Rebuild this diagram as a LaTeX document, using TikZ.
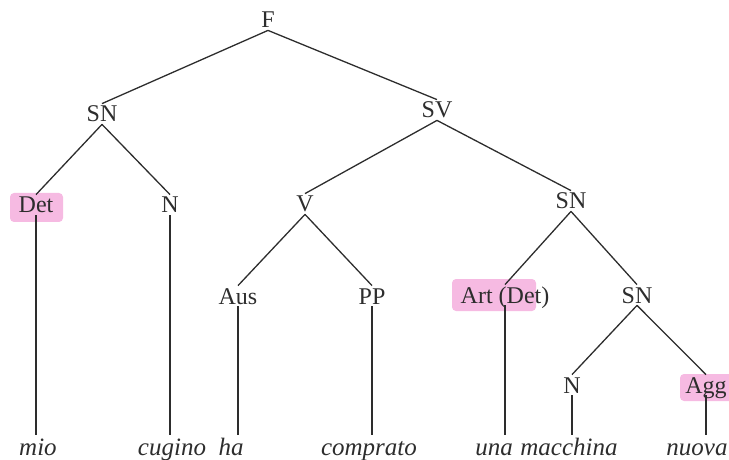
\documentclass[tikz,border=0pt]{standalone}
\usepackage{fontspec}
\setmainfont{Liberation Serif}
\usepackage{xcolor}
\usepackage{tikz}
\definecolor{ink}{RGB}{45,45,45}
\definecolor{marker}{RGB}{246,186,226}

\begin{document}
\begin{tikzpicture}[
  x=0.5pt, y=-0.5pt,
  cat/.style={anchor=base, inner sep=1pt, text height=8pt, text depth=0pt, text=ink},
  word/.style={cat, text height=9pt, font=\fontsize{12.5}{15}\selectfont\itshape},
  branch/.style={draw=ink, line width=0.65pt},
  hl/.style={fill=marker, rounded corners=2pt},
  font=\fontsize{12}{14}\selectfont
]
\useasboundingbox (0,0) rectangle (729,460);

% highlighter marks
\fill[hl] (10,193) rectangle (63,222);
\fill[hl] (452,279) rectangle (536,311);
\fill[hl] (680,374) rectangle (740,401);

\node[cat] (f) at (268,28) {F};
\node[cat] (sn) at (102,122) {SN};
\node[cat] (sv) at (437,118) {SV};
\node[cat] (det) at (36,213) {Det};
\node[cat] (n) at (170,213) {N};
\node[cat] (v) at (305,212) {V};
\node[cat] (snob) at (571,209) {SN};
\node[cat] (aus) at (238,304) {Aus};
\node[cat] (pp) at (372,304) {PP};
\node[cat] (art) at (505,303) {Art (Det)};
\node[cat] (snn) at (637,303) {SN};
\node[cat] (nn) at (572,393) {N};
\node[cat] (agg) at (706,393) {Agg};

\node[word] (mio) at (38,455) {mio};
\node[word] (cugino) at (172,455) {cugino};
\node[word] (ha) at (231,455) {ha};
\node[word] (comprato) at (369,455) {comprato};
\node[word] (una) at (494,455) {una};
\node[word] (macchina) at (569,455) {macchina};
\node[word] (nuova) at (697,455) {nuova};

\draw[branch] (f.south) -- (sn.north);
\draw[branch] (f.south) -- (sv.north);
\draw[branch] (sn.south) -- (det.north);
\draw[branch] (sn.south) -- (n.north);
\draw[branch] (sv.south) -- (v.north);
\draw[branch] (sv.south) -- (snob.north);
\draw[branch] (v.south) -- (aus.north);
\draw[branch] (v.south) -- (pp.north);
\draw[branch] (snob.south) -- (art.north);
\draw[branch] (snob.south) -- (snn.north);
\draw[branch] (snn.south) -- (nn.north);
\draw[branch] (snn.south) -- (agg.north);

% lexical items
\draw[branch] (det.south) -- (det.south |- mio.north);
\draw[branch] (n.south) -- (n.south |- cugino.north);
\draw[branch] (aus.south) -- (aus.south |- ha.north);
\draw[branch] (pp.south) -- (pp.south |- comprato.north);
\draw[branch] (art.south) -- (art.south |- una.north);
\draw[branch] (nn.south) -- (nn.south |- macchina.north);
\draw[branch] (agg.south) -- (agg.south |- nuova.north);
\end{tikzpicture}
\end{document}
